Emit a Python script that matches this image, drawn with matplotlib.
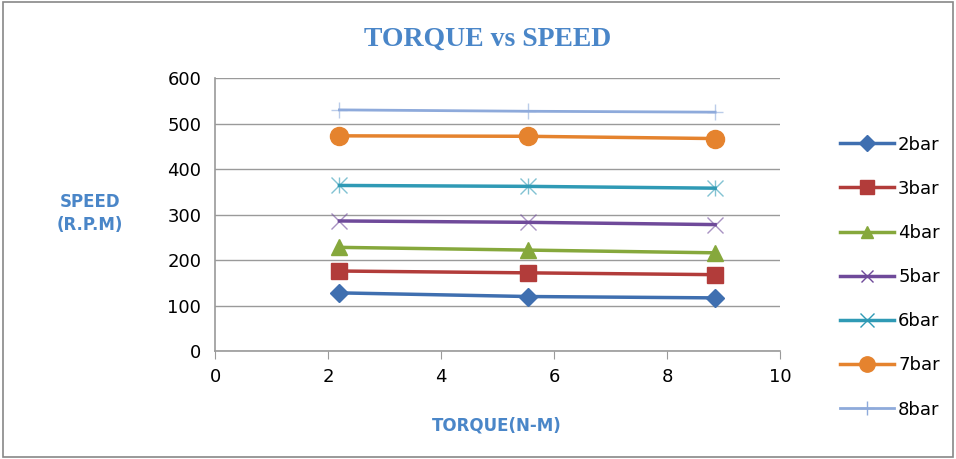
import matplotlib
matplotlib.use("Agg")
import matplotlib.pyplot as plt
from matplotlib.lines import Line2D
from matplotlib.patches import Rectangle

torque = [2.2, 5.53, 8.85]
labels = ["2bar", "3bar", "4bar", "5bar", "6bar", "7bar", "8bar"]
speed_2bar = [128, 120, 117]
speed_3bar = [176, 172, 168]
speed_4bar = [228, 222, 216]
speed_5bar = [286, 283, 278]
speed_6bar = [364, 362, 358]
speed_7bar = [473, 472, 467]
speed_8bar = [530, 527, 525]
series = [speed_2bar, speed_3bar, speed_4bar, speed_5bar,
          speed_6bar, speed_7bar, speed_8bar]

colors = ["#3f6fb0", "#b23c3a", "#86a83c", "#6f4a9a", "#2f9ab5", "#e5832e", "#8eaadb"]
markers = ["D", "s", "^", "x", "*", "o", "+"]
msizes = [9, 12, 11, 11, 12, 13, 12]
lws = [2.5, 2.5, 2.5, 2.5, 2.5, 2.5, 2.0]

fig = plt.figure(figsize=(9.56, 4.59), dpi=100)
fig.patches.append(Rectangle((0.003, 0.005), 0.994, 0.99, transform=fig.transFigure,
                             fill=False, edgecolor="#888888", lw=1.2))
ax = fig.add_axes([0.225, 0.235, 0.591, 0.595])

handles = []
for y, lab, c, m, ms, lw in zip(series, labels, colors, markers, msizes, lws):
    if m in ("x", "+", "*"):
        ax.plot(torque, y, color=c, lw=lw, zorder=3)
        ax.plot(torque, y, ls="none", marker=m if m != "*" else "x",
                ms=ms, mew=1.0, color=c, alpha=0.6, zorder=4)
        if m == "*":
            ax.plot(torque, y, ls="none", marker="|", ms=ms, mew=1.0,
                    color=c, alpha=0.6, zorder=4)
    else:
        ax.plot(torque, y, color=c, lw=lw, marker=m, ms=ms, mec=c, zorder=3)
    handles.append(Line2D([], [], color=c, lw=lw,
                          marker=("x" if m == "*" else m), ms=ms * 0.85, mec=c))

ax.set_xlim(0, 10)
ax.set_ylim(0, 600)
ax.set_xticks(range(0, 11, 2))
ax.set_yticks(range(0, 601, 100))
ax.yaxis.grid(True, color="#9a9a9a", lw=1.0)
ax.set_axisbelow(True)
for s in ("top", "right"):
    ax.spines[s].set_visible(False)
for s in ("left", "bottom"):
    ax.spines[s].set_color("#9a9a9a")
    ax.spines[s].set_linewidth(1.2)
ax.tick_params(axis="y", length=0, labelsize=13, pad=10)
ax.tick_params(axis="x", length=6, direction="out", color="#9a9a9a", labelsize=13, pad=6)

fig.text(0.51, 0.915, "TORQUE vs SPEED", ha="center", va="center",
         family="Liberation Serif", fontweight="bold", fontsize=20, color="#4a86c8")
fig.text(0.094, 0.535, "SPEED\n(R.P.M)", ha="center", va="center",
         fontweight="bold", fontsize=12, color="#4a86c8", linespacing=1.3)
fig.text(0.52, 0.073, "TORQUE(N-M)", ha="center", va="center",
         fontweight="bold", fontsize=12, color="#4a86c8")

fig.legend(handles, labels, loc="upper left", bbox_to_anchor=(0.862, 0.74),
           frameon=False, fontsize=13, handlelength=3.0, labelspacing=1.45,
           handletextpad=0.2)

fig.savefig("out.png", dpi=100)
